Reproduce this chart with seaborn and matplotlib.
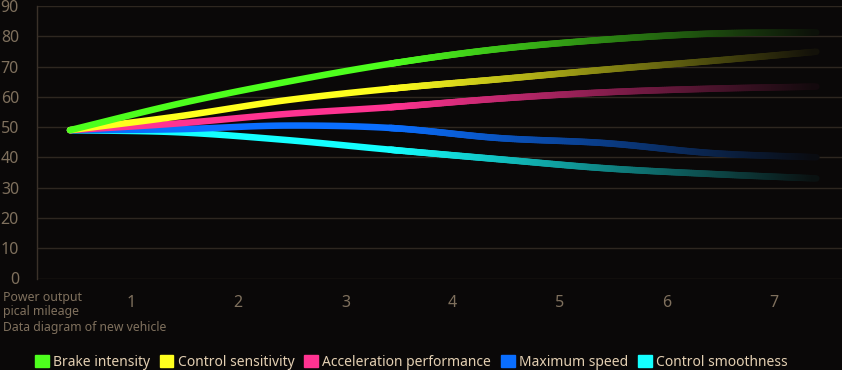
"""
New vehicle data diagram: five performance curves with a fading tail,
drawn on a dark background.
"""

import matplotlib

matplotlib.use("Agg")

import matplotlib.colors as mcolors
import matplotlib.pyplot as plt
import numpy as np
import pandas as pd
import seaborn as sns
from matplotlib.collections import LineCollection
from matplotlib.patches import Patch

# ---- data ------------------------------------------------------------------
SERIES = [
    "Brake intensity",
    "Control sensitivity",
    "Acceleration performance",
    "Maximum speed",
    "Control smoothness",
]
COLORS = ["#4dff1d", "#ffff1e", "#ff3391", "#0a6eff", "#14ffff"]

brake_intensity = [49, 57.6, 64.8, 71.0, 75.8, 78.9, 80.9, 81.3]
control_sensitivity = [49, 53.5, 58.8, 62.7, 65.8, 69.0, 71.9, 75.0]
acceleration_perf = [49, 51.2, 54.3, 56.6, 59.4, 61.5, 62.7, 63.4]
maximum_speed = [49, 49.3, 50.5, 49.7, 46.4, 44.7, 41.4, 40.0]
control_smoothness = [49, 48.3, 45.8, 42.5, 39.4, 36.4, 34.5, 33.0]

X_LABELS = ["1", "2", "3", "4", "5", "6", "7"]
Y_TICKS = list(range(0, 91, 10))

BG = "#0a0808"
GRID = "#2e2720"
SPINE = "#3a3129"
TICK_COLOR = "#7f705d"
LEGEND_TEXT = "#e3cfb2"


def smooth_curve(ys, n=40):
    """Cubic Hermite (Catmull-Rom style) curve through evenly spaced points."""
    ys = np.asarray(ys, dtype=float)
    xs = np.arange(len(ys), dtype=float)
    m = np.gradient(ys)
    out_x, out_y = [], []
    for i in range(len(ys) - 1):
        t = np.linspace(0, 1, n, endpoint=(i == len(ys) - 2))
        h00 = 2 * t**3 - 3 * t**2 + 1
        h10 = t**3 - 2 * t**2 + t
        h01 = -2 * t**3 + 3 * t**2
        h11 = t**3 - t**2
        out_x.append(xs[i] + t)
        out_y.append(h00 * ys[i] + h10 * m[i] + h01 * ys[i + 1] + h11 * m[i + 1])
    return np.concatenate(out_x), np.concatenate(out_y)


def fade(x):
    """Opacity along x: full until x=3, then fading to nothing at the end."""
    return np.clip(1 - (x - 3) / 4.1, 0, 1)


def main():
    sns.set_theme(
        style="dark",
        rc={
            "axes.facecolor": BG,
            "figure.facecolor": BG,
            "axes.edgecolor": SPINE,
        },
    )
    plt.rcParams["font.family"] = ["Noto Sans", "DejaVu Sans"]

    fig = plt.figure(figsize=(8.42, 3.70), dpi=100)
    ax = fig.add_axes([37 / 842, 1 - 278.5 / 370, 1 - 37 / 842, 272.5 / 370])

    values = [
        brake_intensity,
        control_sensitivity,
        acceleration_perf,
        maximum_speed,
        control_smoothness,
    ]
    bg_rgb = np.array(mcolors.to_rgb(BG))
    lw = 4.7

    # bright head of each curve through seaborn
    frames = []
    for name, ys in zip(SERIES, values):
        sx, sy = smooth_curve(ys)
        keep = sx <= 3.05
        frames.append(pd.DataFrame({"x": sx[keep], "y": sy[keep], "series": name}))
    df = pd.concat(frames, ignore_index=True)
    sns.lineplot(
        data=df, x="x", y="y", hue="series",
        hue_order=SERIES[::-1], palette=dict(zip(SERIES, COLORS)),
        estimator=None, sort=False, linewidth=lw, legend=False,
        solid_capstyle="round", ax=ax, zorder=3,
    )

    # fading tail as a colour-graded collection
    for name, ys, color in list(zip(SERIES, values, COLORS))[::-1]:
        sx, sy = smooth_curve(ys, n=60)
        keep = (sx >= 2.98) & (sx <= 6.97)
        pts = np.column_stack([sx[keep], sy[keep]])
        segs = np.stack([pts[:-1], pts[1:]], axis=1)
        mid = (pts[:-1, 0] + pts[1:, 0]) / 2
        a = fade(mid)[:, None]
        rgb = a * np.array(mcolors.to_rgb(color)) + (1 - a) * bg_rgb
        lc = LineCollection(segs, colors=rgb, linewidths=lw, capstyle="round", zorder=3)
        ax.add_collection(lc)

    ax.set_xlim((37 - 70) / 107.14, (842 - 70) / 107.14)
    ax.set_ylim(0, 90)
    ax.set_xticks([i + 0.57 for i in range(len(X_LABELS))])
    ax.set_xticklabels(X_LABELS)
    ax.set_yticks(Y_TICKS)
    ax.set_xlabel("")
    ax.set_ylabel("")
    ax.tick_params(axis="y", length=0, pad=13, labelsize=11.5, labelcolor=TICK_COLOR)
    ax.tick_params(axis="x", length=0, pad=12, labelsize=11.5, labelcolor=TICK_COLOR)

    ax.yaxis.grid(True, color=GRID, linewidth=1.0)
    ax.xaxis.grid(False)
    ax.set_axisbelow(True)
    for side in ["top", "right", "bottom"]:
        ax.spines[side].set_visible(False)
    ax.spines["left"].set_color(SPINE)
    ax.spines["left"].set_linewidth(1.0)

    fig.text(3 / 842, 1 - 297 / 370, "Power output", color=TICK_COLOR,
             fontsize=8.9, ha="left", va="center")
    fig.text(3 / 842, 1 - 311 / 370, "pical mileage", color=TICK_COLOR,
             fontsize=8.9, ha="left", va="center")
    fig.text(3 / 842, 1 - 327 / 370, "Data diagram of new vehicle", color=TICK_COLOR,
             fontsize=8.8, ha="left", va="center")

    handles = [Patch(facecolor=c, edgecolor=c, label=s) for s, c in zip(SERIES, COLORS)]
    fig.legend(
        handles=handles, loc="center", bbox_to_anchor=(411 / 842, 1 - 362 / 370),
        ncol=5, frameon=False, fontsize=10, labelcolor=LEGEND_TEXT,
        handlelength=1.0, handleheight=1.0, handletextpad=0.3, columnspacing=0.7,
        borderaxespad=0,
    )

    fig.savefig("out.png", dpi=100, facecolor=BG)
    plt.close(fig)


if __name__ == "__main__":
    main()
